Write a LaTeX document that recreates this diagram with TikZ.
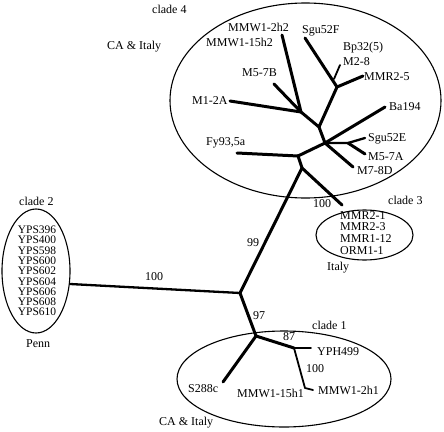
\documentclass[tikz,border=0pt]{standalone}
\usepackage{fontspec}
\setmainfont{Liberation Serif}
\begin{document}
\begin{tikzpicture}[x=1pt,y=-1pt,
  lbl/.style={inner sep=0pt, anchor=west, font=\fontsize{12}{10.3}\selectfont},
  br/.style={line width=3pt, line cap=round, line join=round},
  midbr/.style={line width=2.3pt, line cap=round, line join=round},
  thinbr/.style={line width=1.8pt, line cap=round, line join=round},
  cladeline/.style={line width=1.1pt}]
\useasboundingbox (0,0) rectangle (444,431);

% clade ellipses
\draw[cladeline] (305.5,100.5) ellipse [x radius=135.5, y radius=97.5];
\draw[cladeline] (36,271) ellipse [x radius=34, y radius=62];
\draw[cladeline] (364.5,235) ellipse [x radius=48.5, y radius=25];
\draw[cladeline] (284,379) ellipse [x radius=107, y radius=48];

% internal nodes and tips
\coordinate (root) at (240,293);
\coordinate (n1) at (301,112);
\coordinate (n2) at (319,127);
\coordinate (n3) at (337,87);
\coordinate (j28) at (334,79);
\coordinate (n4) at (325,143);
\coordinate (n4b) at (348,143);
\coordinate (n5) at (298,156);
\coordinate (n6) at (302,168);
\coordinate (n7) at (256,336);
\coordinate (n8) at (294,348);
\coordinate (kink) at (305,388);

\coordinate (t2h2) at (282,35);
\coordinate (t57B) at (274,84);
\coordinate (t12A) at (230,101);
\coordinate (tSgu52F) at (305,38);
\coordinate (tM28) at (340,65);
\coordinate (tMMR25) at (363,76);
\coordinate (tBa194) at (385,107);
\coordinate (tSgu52E) at (365,138);
\coordinate (tM57A) at (365,154);
\coordinate (tM78D) at (353,167);
\coordinate (tFy) at (237,153);
\coordinate (tMMR21) at (342,205);
\coordinate (tC2) at (70,284);
\coordinate (tS288c) at (223,382);
\coordinate (tYPH) at (311,348);
\coordinate (t2h1) at (313,390);

% branches
\draw[br] (t2h2) -- (n1);
\draw[br] (t57B) -- (n1);
\draw[br] (t12A) -- (n1);
\draw[br] (n1) -- (n2) -- (n3);
\draw[br] (tSgu52F) -- (n3);
\draw[thinbr] (tM28) -- (j28);
\draw[br] (tMMR25) -- (n3);
\draw[br] (n2) -- (n4);
\draw[br] (tBa194) -- (n4);
\draw[midbr] (n4) -- (n4b) -- (tSgu52E);
\draw[br] (n4b) -- (tM57A);
\draw[br] (n4) -- (tM78D);
\draw[br] (n4) -- (n5);
\draw[br] (tFy) -- (n5);
\draw[br] (n5) -- (n6);
\draw[br] (n6) -- (tMMR21);
\draw[br] (n6) -- (root);
\draw[midbr] (tC2) -- (root);
\draw[br] (root) -- (n7);
\draw[br] (n7) -- (tS288c);
\draw[br] (n7) -- (n8);
\draw[thinbr] (n8) -- (tYPH);
\draw[thinbr] (n8) -- (kink) -- (t2h1);

% labels clade 4
\node[lbl] (lc4) at (152,9) {clade 4};
\node[lbl] (lca1) at (107,47) {CA \& Italy};
\node[lbl] (l2h2) at (228,27) {MMW1-2h2};
\node[lbl] (l15h2) at (206,42) {MMW1-15h2};
\node[lbl] (lSgu52F) at (302,31) {Sgu52F};
\node[lbl] (lBp) at (343,48) {Bp32(5)};
\node[lbl] (lM28) at (343,61.5) {M2-8};
\node[lbl] (lMMR25) at (364,76.5) {MMR2-5};
\node[lbl] (l57B) at (242,73) {M5-7B};
\node[lbl] (l12A) at (192,101) {M1-2A};
\node[lbl] (lBa) at (389,107) {Ba194};
\node[lbl] (lSgu52E) at (368,139) {Sgu52E};
\node[lbl] (l57A) at (368,157) {M5-7A};
\node[lbl] (l78D) at (357,171) {M7-8D};
\node[lbl] (lFy) at (206,143) {Fy93,5a};

% clade 3
\node[lbl] (b100a) at (313,204) {100};
\node[lbl] (lc3) at (388,200) {clade 3};
\node[lbl, align=left, font=\fontsize{12}{11.9}\selectfont] (lc3list) at (340,233)
  {MMR2-1\\MMR2-3\\MMR1-12\\ORM1-1};
\node[lbl] (lItaly) at (327,268) {Italy};
\node[lbl] (b99) at (247,242.5) {99};

% clade 2
\node[lbl] (lc2) at (19,201) {clade 2};
\node[lbl, anchor=center, align=center, font=\fontsize{11.5}{10.3}\selectfont] (lc2list) at (37,271)
  {YPS396\\YPS400\\YPS598\\YPS600\\YPS602\\YPS604\\YPS606\\YPS608\\YPS610};
\node[lbl] (lPenn) at (26,344) {Penn};
\node[lbl] (b100b) at (145,276.5) {100};

% clade 1
\node[lbl] (b97) at (253,315.5) {97};
\node[lbl] (lc1) at (312,325.5) {clade 1};
\node[lbl] (b87) at (283,337) {87};
\node[lbl] (lYPH) at (317,352) {YPH499};
\node[lbl] (b100c) at (306,369) {100};
\node[lbl] (l2h1) at (318,390) {MMW1-2h1};
\node[lbl] (l15h1) at (237,393) {MMW1-15h1};
\node[lbl] (lS288c) at (188,389) {S288c};
\node[lbl] (lca2) at (159,423) {CA \& Italy};
\end{tikzpicture}
\end{document}
